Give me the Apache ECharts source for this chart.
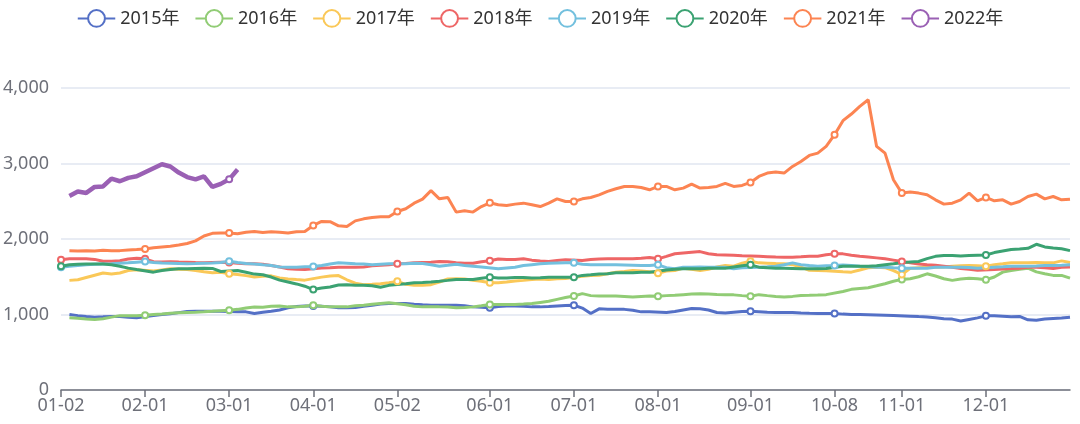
<!DOCTYPE html>
<html>
<head>
<meta charset="utf-8">
<script src="https://cdn.jsdelivr.net/npm/echarts@6/dist/echarts.min.js"></script>
<style>
html,body{margin:0;padding:0;background:#fff;}
#chart{width:1080px;height:424px;}
</style>
</head>
<body>
<div id="chart"></div>
<script>
const categories = [
'01-02','01-05','01-08','01-11','01-14','01-17','01-20','01-23','01-26','01-29',
'02-01','02-04','02-07','02-10','02-13','02-16','02-19','02-22','02-24','02-26',
'03-01','03-04','03-07','03-10','03-13','03-16','03-19','03-22','03-25','03-28',
'04-01','04-04','04-07','04-10','04-13','04-16','04-19','04-22','04-25','04-28',
'05-02','05-05','05-08','05-11','05-14','05-17','05-19','05-22','05-24','05-27','05-29',
'06-01','06-04','06-07','06-10','06-13','06-16','06-19','06-22','06-25','06-28',
'07-01','07-04','07-07','07-10','07-13','07-16','07-19','07-22','07-25','07-28',
'08-01','08-04','08-07','08-09','08-12','08-15','08-18','08-21','08-24','08-27','08-29',
'09-01','09-04','09-07','09-10','09-13','09-16','09-19','09-22','09-25','09-28',
'10-08','10-11','10-14','10-17','10-20','10-23','10-26','10-29',
'11-01','11-04','11-07','11-10','11-13','11-16','11-19','11-22','11-25','11-28',
'12-01','12-04','12-07','12-10','12-13','12-16','12-19','12-22','12-25','12-28','12-31'
];
const tickLabels = ['01-02','02-01','03-01','04-01','05-02','06-01','07-01','08-01','09-01','10-08','11-01','12-01'];
const years = ['2015年','2016年','2017年','2018年','2019年','2020年','2021年','2022年'];

const y2015 = [
null,1000,985,972,965,969,975,972,965,958,
null,985,1000,1010,1025,1040,1044,1044,1044,1044,
null,1037,1035,1013,1030,1044,1060,1088,1105,1114,
1114,1110,1101,1090,1088,1092,1110,1123,1140,1145,
null,1145,1135,1128,1123,1123,1123,1123,1115,1101,
1095,1088,1105,1114,1114,1108,1101,1101,1106,1114,
1120,1123,1085,1013,1075,1070,1070,1068,1055,1035,
1035,null,1026,1040,1060,1079,1075,1060,1026,1020,
1030,1040,1044,1038,1030,1028,1026,1026,1020,1015,
1013,1013,1013,1005,1000,1000,998,995,991,987,
null,978,972,967,958,945,939,915,935,955,
982,982,978,969,975,930,925,939,947,955,
965];
const y2016 = [
null,956,950,940,934,945,965,985,985,982,
991,1000,1008,1018,1022,1026,1030,1035,1042,1050,
1057,1068,1085,1098,1095,1108,1114,1101,1101,1110,
1123,1110,1101,1101,1101,1115,1123,1135,1145,1155,
null,1130,1110,1101,1101,1101,1098,1088,1092,1101,
1115,1132,1132,1132,1132,1138,1145,1160,1175,1200,
1225,1246,1276,1250,1246,1246,1246,1240,1233,1240,
1246,1241,1250,1256,1263,1270,1275,1270,1265,1263,
1260,1250,1241,1263,1250,1238,1233,1240,1252,1254,
1258,1263,null,1305,1333,1345,1355,1380,1408,1440,
1465,1474,1500,1539,1510,1474,1452,1470,1480,1474,
1460,1496,1561,1583,1600,1614,1565,1540,1518,1518,
1482];
const y2017 = [
null,1452,1460,1490,1520,1550,1535,1550,1583,1592,
null,1575,1590,1605,1600,1595,1583,1565,1553,1558,
1539,1530,1515,1496,1505,1512,1485,1470,1462,1455,
null,1495,1510,1515,1460,1415,1395,1400,1408,1420,
1439,1400,1386,1386,1395,1430,1470,1474,1470,1455,
1440,1421,1421,1430,1445,1452,1465,1470,1462,1474,
1476,null,1505,1516,1520,1540,1560,1570,1583,1575,
1565,1545,1575,1583,1614,1600,1583,1600,1630,1649,
1640,1680,1705,1684,1680,1675,1671,1660,1627,1585,
1583,1578,null,1565,1561,1590,1620,1627,1620,1580,
1530,1612,1620,1627,1627,1630,1640,1645,1649,1645,
1640,1660,1671,1684,1684,1684,1690,1684,1684,1710,
1690];
const y2018 = [
1724,1737,1737,1737,1730,1705,1705,1712,1735,1745,
1737,1700,1695,1700,1695,1693,1688,1684,1690,1693,
1690,1680,1671,1671,1665,1650,1630,1605,1598,1596,
null,1615,1620,1627,1627,1627,1630,1645,1652,1658,
1671,1675,1685,1690,1693,1702,1698,1684,1678,1680,
1700,1712,1735,1730,1728,1737,1720,1708,1702,1715,
1725,null,1715,1728,1735,1737,1737,1737,1740,1746,
1754,1737,1770,1805,1816,1825,1833,1805,1790,1789,
1785,1778,null,1770,1765,1760,1759,1759,1765,1772,
1772,1790,1803,1803,1785,1772,1762,1750,1737,1720,
1702,1686,1670,1658,1652,1640,1627,1610,1598,1585,
null,1596,1603,1608,1614,1625,1625,1620,1610,1625,
1630];
const y2019 = [
1627,1640,1650,1660,1665,1670,1672,1680,1684,1693,
1702,1690,1682,1680,1676,1671,1675,1680,1682,1690,
1706,1690,1675,1668,1658,1650,1630,1627,1627,1632,
1636,1650,1670,1684,1680,1671,1668,1658,1665,1671,
null,1671,1680,1675,1660,1640,1652,1665,1650,1640,
1630,null,1605,1615,1625,1649,1660,1671,1680,1682,
1684,1684,1665,1658,1658,1660,1658,1655,1652,1649,
1649,1658,1620,1605,1627,1627,1630,1627,1627,1627,
1605,1620,null,1627,1632,1640,1660,1684,1660,1649,
1640,1645,1649,1655,1650,1640,1632,1627,1627,1620,
1614,1614,1614,1614,1627,1627,1627,1627,1622,1614,
null,1627,1632,1640,1640,1640,1642,1649,1649,1652,
1658];
const y2020 = [
1640,1660,1665,1668,1670,1670,1660,1640,1614,1595,
null,1561,1583,1595,1605,1605,1610,1614,1610,1570,
null,1583,1560,1535,1526,1496,1455,1430,1405,1375,
1330,1350,1364,1390,1395,1386,1386,1380,1360,1386,
null,1408,1421,1425,1430,1440,1452,1465,1465,1465,
1480,1495,1485,1482,1490,1490,1482,1486,1492,1494,
1494,1495,1518,1526,1535,1540,1553,1553,1553,1560,
1561,null,1590,1600,1605,1605,1605,1612,1614,1614,
1630,1645,1658,1627,1620,1614,1614,1610,1605,1605,
1605,1610,null,1640,1640,1640,1640,1645,1660,1671,
null,1697,1702,1740,1770,1781,1781,1775,1781,1785,
1789,1820,1840,1860,1866,1877,1930,1895,1880,1870,
1846];
const y2021 = [
null,1846,1842,1846,1842,1850,1846,1846,1855,1860,
1868,1885,1895,1905,1920,1940,1975,2040,2075,2078,
2080,2070,2090,2100,2085,2095,2090,2080,2095,2100,
2180,2232,2230,2174,2165,2240,2267,2285,2294,2294,
2364,2400,2475,2528,2640,2532,2550,2356,2373,2356,
2430,2480,2453,2444,2462,2475,2453,2430,2475,2532,
2497,2497,2532,2550,2585,2630,2665,2696,2696,2683,
2652,2696,2696,2652,2674,2727,2674,2683,2696,2736,
2696,2710,2749,2829,2873,2886,2873,2961,3027,3107,
3138,3226,3381,3567,3655,3757,3845,3226,3138,2784,
2608,2621,2608,2585,2519,2462,2475,2519,2608,2506,
2550,2506,2519,2462,2497,2563,2594,2532,2563,2519,
2528];
const y2022 = [
null,2570,2630,2610,2690,2696,2800,2765,2810,2830,
null,null,2990,2960,2880,2820,2790,2830,2690,2730,
2790,2920];

const colors = ['#5470c6','#91cc75','#fac858','#ee6666','#73c0de','#3ba272','#fc8452','#9a60b4'];
const seriesData = [y2015,y2016,y2017,y2018,y2019,y2020,y2021,y2022];
const labelSet = new Set(tickLabels);
const showLabel = (idx, val) => labelSet.has(val);

const chart = echarts.init(document.getElementById('chart'));
const FONT = '"Noto Sans", "Noto Sans CJK SC", sans-serif';
chart.setOption({
  animation: false,
  color: colors,
  textStyle: { fontFamily: FONT },
  legend: {
    top: 4, left: 'center',
    itemWidth: 37.5, itemHeight: 21, itemGap: 15,
    textStyle: { fontSize: 18, color: '#333', fontFamily: FONT },
    data: years
  },
  grid: { left: 61, right: 10, top: 88, bottom: 34 },
  xAxis: {
    type: 'category', boundaryGap: false, data: categories,
    axisLine: { lineStyle: { color: '#6e7079', width: 1.5 } },
    axisTick: { interval: showLabel, length: 7, lineStyle: { color: '#6e7079', width: 1.5 } },
    axisLabel: { interval: showLabel, fontSize: 18, color: '#6e7079', margin: 7, fontFamily: FONT }
  },
  yAxis: {
    type: 'value', min: 0, max: 4000, interval: 1000,
    axisLine: { show: false }, axisTick: { show: false },
    axisLabel: { fontSize: 18, color: '#6e7079', margin: 12, fontFamily: FONT },
    splitLine: { lineStyle: { color: '#e0e6f1', width: 1.5 } }
  },
  series: years.map((name, i) => ({
    name: name, type: 'line', data: seriesData[i],
    symbol: 'emptyCircle', symbolSize: 6,
    showSymbol: true, showAllSymbol: false, connectNulls: true,
    lineStyle: { width: i === 7 ? 4.5 : 3, color: colors[i] },
    itemStyle: { color: colors[i], borderWidth: 2.5 }
  }))
});
</script>
</body>
</html>
